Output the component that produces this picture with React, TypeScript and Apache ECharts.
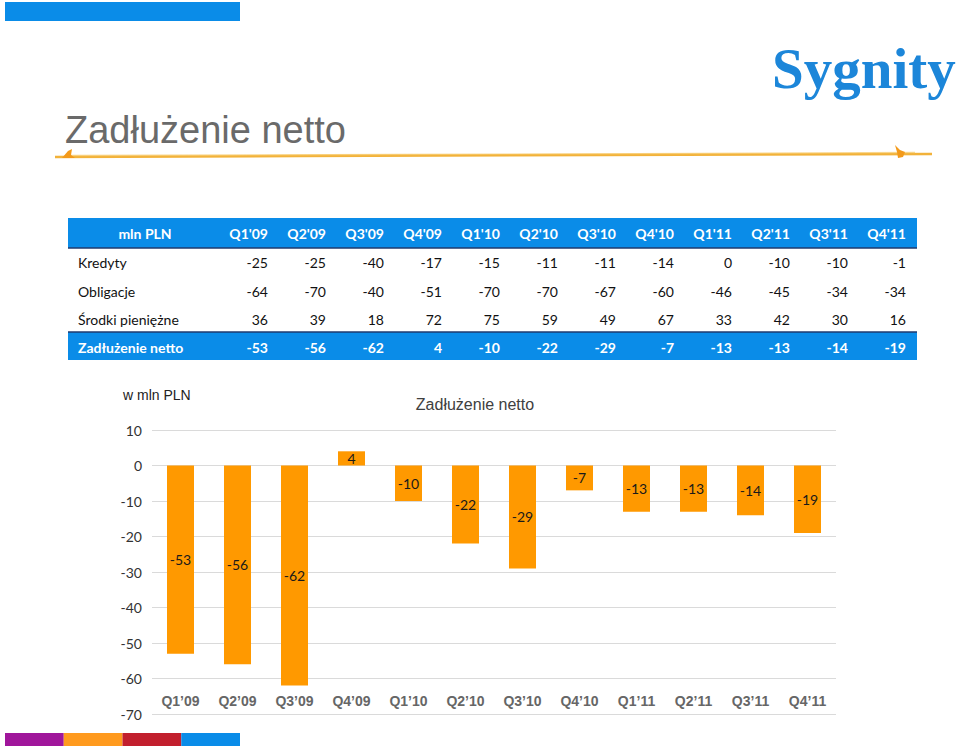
import React, { useEffect, useRef } from "react";
import * as echarts from "echarts";

const quarters = ["Q1'09", "Q2'09", "Q3'09", "Q4'09", "Q1'10", "Q2'10", "Q3'10", "Q4'10", "Q1'11", "Q2'11", "Q3'11", "Q4'11"];
const chartCategories = quarters.map((q) => q.replace("'", "\u2019"));
const kredyty = [-25, -25, -40, -17, -15, -11, -11, -14, 0, -10, -10, -1];
const obligacje = [-64, -70, -40, -51, -70, -70, -67, -60, -46, -45, -34, -34];
const srodki = [36, 39, 18, 72, 75, 59, 49, 67, 33, 42, 30, 16];
const zadluzenie = [-53, -56, -62, 4, -10, -22, -29, -7, -13, -13, -14, -19];
const tableRows = [
  { label: "Kredyty", values: kredyty },
  { label: "Obligacje", values: obligacje },
  { label: "Środki pieniężne", values: srodki },
];
const yMin = -70;
const yMax = 10;
const yStep = 10;

const BLUE = "#0A8CE8";
const NAVY = "#1F3A6E";
const ORANGE = "#FF9900";
const TFONT = "Lato, 'Open Sans', sans-serif";

function buildTable(): any[] {
  const els: any[] = [];
  const x0 = 68;
  const x1 = 917;
  const colRight = (i: number) => 268 + 58 * i;
  els.push({ type: "rect", shape: { x: x0, y: 218, width: x1 - x0, height: 30 }, style: { fill: BLUE } });
  els.push({ type: "rect", shape: { x: x0, y: 332, width: x1 - x0, height: 28 }, style: { fill: BLUE } });
  els.push({ type: "line", shape: { x1: x0, y1: 248, x2: x1, y2: 248 }, style: { stroke: NAVY, lineWidth: 1.5 } });
  els.push({ type: "line", shape: { x1: x0, y1: 332, x2: x1, y2: 332 }, style: { stroke: NAVY, lineWidth: 1.5 } });
  els.push({
    type: "text",
    style: { text: "mln PLN", x: 145, y: 233, align: "center", verticalAlign: "middle", fill: "#fff", font: `bold 14px ${TFONT}` },
  });
  quarters.forEach((q, i) => {
    els.push({
      type: "text",
      style: { text: q, x: colRight(i), y: 233, align: "right", verticalAlign: "middle", fill: "#fff", font: `bold 14px ${TFONT}` },
    });
  });
  const rowY = [262, 291, 319];
  tableRows.forEach((row, r) => {
    els.push({
      type: "text",
      style: { text: row.label, x: 78, y: rowY[r], align: "left", verticalAlign: "middle", fill: "#111", font: `14px ${TFONT}` },
    });
    row.values.forEach((v, i) => {
      els.push({
        type: "text",
        style: { text: String(v), x: colRight(i), y: rowY[r], align: "right", verticalAlign: "middle", fill: "#111", font: `14px ${TFONT}` },
      });
    });
  });
  els.push({
    type: "text",
    style: { text: "Zadłużenie netto", x: 78, y: 347, align: "left", verticalAlign: "middle", fill: "#fff", font: `bold 14px ${TFONT}` },
  });
  zadluzenie.forEach((v, i) => {
    els.push({
      type: "text",
      style: { text: String(v), x: colRight(i), y: 347, align: "right", verticalAlign: "middle", fill: "#fff", font: `bold 14px ${TFONT}` },
    });
  });
  return els;
}

function buildDecor(): any[] {
  const els: any[] = [];
  // top blue strip
  els.push({ type: "rect", shape: { x: 5, y: 2, width: 235, height: 19 }, style: { fill: "#0A8CE8" } });
  // bottom colour strip
  const strip = ["#A0169B", "#FF9A1E", "#C21F2E", "#0A8CE8"];
  strip.forEach((c, i) => {
    els.push({ type: "rect", shape: { x: 5 + i * 58.75, y: 733, width: 58.75, height: 13 }, style: { fill: c } });
  });
  // slide title
  els.push({
    type: "text",
    style: { text: "Zadłużenie netto", x: 65, y: 130, align: "left", verticalAlign: "middle", fill: "#6A6A6A", font: "38px 'Liberation Sans', Arial, sans-serif" },
  });
  // brush line under title
  els.push({
    type: "polyline",
    shape: { points: [[55, 157], [300, 156], [600, 155], [932, 154]] },
    style: { stroke: "#F2B23A", lineWidth: 2.4, fill: null },
  });
  els.push({
    type: "polyline",
    shape: { points: [[70, 155.5], [400, 154.5], [700, 153.5], [915, 152.5]] },
    style: { stroke: "rgba(246,200,100,0.7)", lineWidth: 1.4, fill: null },
  });
  els.push({
    type: "polygon",
    shape: { points: [[62, 158], [68, 151], [72, 149], [71, 155], [75, 158]] },
    style: { fill: "#F39A1A" },
  });
  els.push({
    type: "polygon",
    shape: { points: [[895, 145], [900, 150], [905, 152], [903, 157], [898, 158], [897, 152]] },
    style: { fill: "#F39A1A" },
  });
  // logo text
  els.push({
    type: "text",
    style: {
      text: "Sygnity",
      x: 772,
      y: 68,
      align: "left",
      verticalAlign: "middle",
      fill: "#1C86D9",
      font: "bold 57px 'Liberation Serif', 'DejaVu Serif', serif",
    },
  });
  // chart texts
  els.push({
    type: "text",
    style: { text: "w mln PLN", x: 123, y: 395, align: "left", verticalAlign: "middle", fill: "#222", font: "14px 'Liberation Sans', Arial, sans-serif" },
  });
  els.push({
    type: "text",
    style: { text: "Zadłużenie netto", x: 475, y: 404, align: "center", verticalAlign: "middle", fill: "#404040", font: "16px 'Liberation Sans', Arial, sans-serif" },
  });
  return els;
}

export default function App() {
  const ref = useRef<HTMLDivElement>(null);
  useEffect(() => {
    if (!ref.current) return;
    const chart = echarts.init(ref.current, null, { renderer: "svg" });
    chart.setOption({
      animation: false,
      backgroundColor: "#ffffff",
      grid: { left: 152, right: 124, top: 430, bottom: 34 },
      xAxis: {
        type: "category",
        data: chartCategories,
        axisLine: { show: false },
        axisTick: { show: false },
        axisLabel: {
          margin: -20,
          color: "#666666",
          fontSize: 14,
          fontWeight: "bold",
          fontFamily: "'Liberation Sans', Arial, sans-serif",
        },
      },
      yAxis: {
        type: "value",
        min: yMin,
        max: yMax,
        interval: yStep,
        axisLine: { show: false },
        axisTick: { show: false },
        axisLabel: { margin: 10, color: "#333", fontSize: 14, fontFamily: TFONT },
        splitLine: { lineStyle: { color: "#DADADA", width: 1 } },
      },
      series: [
        {
          type: "bar",
          data: zadluzenie,
          barWidth: 27,
          itemStyle: { color: ORANGE },
          label: { show: true, position: "inside", color: "#1a1a1a", fontSize: 14, fontFamily: TFONT },
        },
      ],
      graphic: [...buildDecor(), ...buildTable()],
    });
    return () => chart.dispose();
  }, []);
  return <div ref={ref} style={{ position: "fixed", left: 0, top: 0, width: 960, height: 748 }} />;
}
